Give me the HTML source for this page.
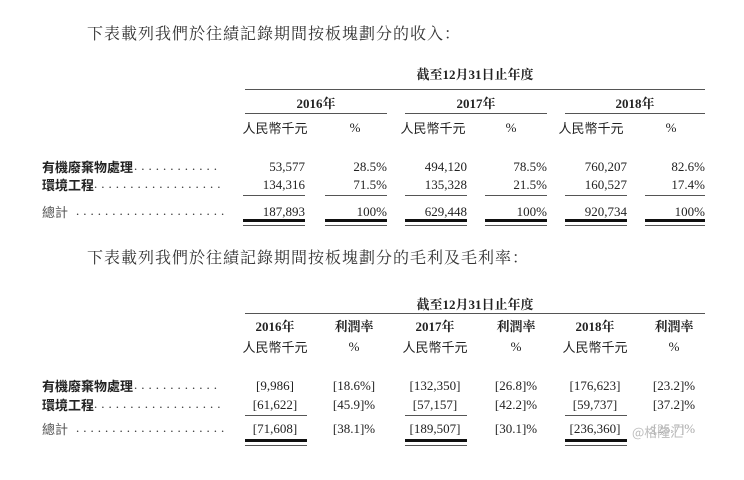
<!DOCTYPE html>
<html><head><meta charset="utf-8"><style>
body{margin:0;width:744px;height:480px;background:#fff;position:relative;overflow:hidden;font-family:"Liberation Serif","Noto Serif CJK SC",serif;color:#222}
.t{position:absolute;white-space:nowrap;font-size:13px;line-height:16px}
.r{text-align:right}
.c{text-align:center}
.b{font-weight:bold}
.ln{position:absolute;background:#555;height:1px}
.th{position:absolute;background:#111;height:3px}
.title{position:absolute;font-size:16px;letter-spacing:1px;line-height:20px;white-space:nowrap;color:#333}
.lbl{position:absolute;font-size:13px;line-height:16px;font-family:"Noto Sans CJK TC","Noto Sans CJK SC",sans-serif;font-weight:bold;color:#222;white-space:nowrap}
.dots{position:absolute;font-size:13px;line-height:16px;letter-spacing:4px;color:#333;white-space:nowrap}
.sub{font-family:"Noto Sans CJK TC","Noto Sans CJK SC",sans-serif;font-size:13px}
</style></head><body>

<div class="title" style="left:87px;top:25px">下表載列我們於往績記錄期間按板塊劃分的收入：</div>

<div class="t c b" style="left:245px;width:460px;top:67px">截至12月31日止年度</div>
<div class="ln" style="left:245px;width:460px;top:89px"></div>
<div class="t c b" style="left:245px;width:142px;top:96px">2016年</div>
<div class="t c b" style="left:405px;width:142px;top:96px">2017年</div>
<div class="t c b" style="left:565px;width:140px;top:96px">2018年</div>
<div class="ln" style="left:245px;width:142px;top:113px"></div>
<div class="ln" style="left:405px;width:142px;top:113px"></div>
<div class="ln" style="left:565px;width:140px;top:113px"></div>
<div class="t c sub" style="left:238px;width:74px;top:120px">人民幣千元</div>
<div class="t c" style="left:340px;width:30px;top:120px">%</div>
<div class="t c sub" style="left:396px;width:74px;top:120px">人民幣千元</div>
<div class="t c" style="left:496px;width:30px;top:120px">%</div>
<div class="t c sub" style="left:554px;width:74px;top:120px">人民幣千元</div>
<div class="t c" style="left:656px;width:30px;top:120px">%</div>

<div class="lbl" style="left:42px;top:159px">有機廢棄物處理</div><div class="dots" style="left:134px;top:158px">............</div>
<div class="lbl" style="left:42px;top:177px">環境工程</div><div class="dots" style="left:94px;top:176px">..................</div>
<div class="lbl" style="left:42px;top:204px;font-weight:normal;color:#555">總計</div><div class="dots" style="left:76px;top:203px">.....................</div>

<div class="t r" style="left:240px;width:65px;top:159px">53,577</div>
<div class="t r" style="left:320px;width:67px;top:159px">28.5%</div>
<div class="t r" style="left:400px;width:67px;top:159px">494,120</div>
<div class="t r" style="left:480px;width:67px;top:159px">78.5%</div>
<div class="t r" style="left:560px;width:67px;top:159px">760,207</div>
<div class="t r" style="left:640px;width:65px;top:159px">82.6%</div>

<div class="t r" style="left:240px;width:65px;top:177px">134,316</div>
<div class="t r" style="left:320px;width:67px;top:177px">71.5%</div>
<div class="t r" style="left:400px;width:67px;top:177px">135,328</div>
<div class="t r" style="left:480px;width:67px;top:177px">21.5%</div>
<div class="t r" style="left:560px;width:67px;top:177px">160,527</div>
<div class="t r" style="left:640px;width:65px;top:177px">17.4%</div>

<div class="t r" style="left:240px;width:65px;top:204px">187,893</div>
<div class="t r" style="left:320px;width:67px;top:204px">100%</div>
<div class="t r" style="left:400px;width:67px;top:204px">629,448</div>
<div class="t r" style="left:480px;width:67px;top:204px">100%</div>
<div class="t r" style="left:560px;width:67px;top:204px">920,734</div>
<div class="t r" style="left:640px;width:65px;top:204px">100%</div>

<div class="ln" style="left:243px;width:62px;top:195px"></div>
<div class="ln" style="left:325px;width:62px;top:195px"></div>
<div class="ln" style="left:405px;width:62px;top:195px"></div>
<div class="ln" style="left:485px;width:62px;top:195px"></div>
<div class="ln" style="left:565px;width:62px;top:195px"></div>
<div class="ln" style="left:645px;width:60px;top:195px"></div>
<div class="th" style="left:243px;width:62px;top:219px"></div><div class="ln" style="left:243px;width:62px;top:225px"></div>
<div class="th" style="left:325px;width:62px;top:219px"></div><div class="ln" style="left:325px;width:62px;top:225px"></div>
<div class="th" style="left:405px;width:62px;top:219px"></div><div class="ln" style="left:405px;width:62px;top:225px"></div>
<div class="th" style="left:485px;width:62px;top:219px"></div><div class="ln" style="left:485px;width:62px;top:225px"></div>
<div class="th" style="left:565px;width:62px;top:219px"></div><div class="ln" style="left:565px;width:62px;top:225px"></div>
<div class="th" style="left:645px;width:60px;top:219px"></div><div class="ln" style="left:645px;width:60px;top:225px"></div>

<div class="title" style="left:87px;top:249px">下表載列我們於往績記錄期間按板塊劃分的毛利及毛利率：</div>

<div class="t c b" style="left:245px;width:460px;top:297px">截至12月31日止年度</div>
<div class="ln" style="left:245px;width:460px;top:313px"></div>

<div class="t c b" style="left:238px;width:74px;top:319px">2016年</div>
<div class="t c b" style="left:322px;width:64px;top:319px">利潤率</div>
<div class="t c b" style="left:398px;width:74px;top:319px">2017年</div>
<div class="t c b" style="left:484px;width:64px;top:319px">利潤率</div>
<div class="t c b" style="left:558px;width:74px;top:319px">2018年</div>
<div class="t c b" style="left:642px;width:64px;top:319px">利潤率</div>
<div class="t c sub" style="left:238px;width:74px;top:339px">人民幣千元</div>
<div class="t c" style="left:322px;width:64px;top:339px">%</div>
<div class="t c sub" style="left:398px;width:74px;top:339px">人民幣千元</div>
<div class="t c" style="left:484px;width:64px;top:339px">%</div>
<div class="t c sub" style="left:558px;width:74px;top:339px">人民幣千元</div>
<div class="t c" style="left:642px;width:64px;top:339px">%</div>

<div class="lbl" style="left:42px;top:378px">有機廢棄物處理</div><div class="dots" style="left:134px;top:377px">............</div>
<div class="lbl" style="left:42px;top:397px">環境工程</div><div class="dots" style="left:94px;top:396px">..................</div>
<div class="lbl" style="left:42px;top:421px;font-weight:normal;color:#555">總計</div><div class="dots" style="left:76px;top:420px">.....................</div>

<div class="t c" style="left:238px;width:74px;top:378px">[9,986]</div>
<div class="t c" style="left:322px;width:64px;top:378px">[18.6%]</div>
<div class="t c" style="left:398px;width:74px;top:378px">[132,350]</div>
<div class="t c" style="left:484px;width:64px;top:378px">[26.8]%</div>
<div class="t c" style="left:558px;width:74px;top:378px">[176,623]</div>
<div class="t c" style="left:642px;width:64px;top:378px">[23.2]%</div>

<div class="t c" style="left:238px;width:74px;top:397px">[61,622]</div>
<div class="t c" style="left:322px;width:64px;top:397px">[45.9]%</div>
<div class="t c" style="left:398px;width:74px;top:397px">[57,157]</div>
<div class="t c" style="left:484px;width:64px;top:397px">[42.2]%</div>
<div class="t c" style="left:558px;width:74px;top:397px">[59,737]</div>
<div class="t c" style="left:642px;width:64px;top:397px">[37.2]%</div>

<div class="t c" style="left:238px;width:74px;top:421px">[71,608]</div>
<div class="t c" style="left:322px;width:64px;top:421px">[38.1]%</div>
<div class="t c" style="left:398px;width:74px;top:421px">[189,507]</div>
<div class="t c" style="left:484px;width:64px;top:421px">[30.1]%</div>
<div class="t c" style="left:558px;width:74px;top:421px">[236,360]</div>
<div class="t c" style="left:642px;width:64px;top:421px;color:#aaa">[25.7]%</div>
<div class="t" style="left:632px;top:424px;color:#bbb;font-family:'Noto Sans CJK SC',sans-serif">@格隆汇</div>

<div class="ln" style="left:245px;width:62px;top:415px"></div>
<div class="ln" style="left:405px;width:62px;top:415px"></div>
<div class="ln" style="left:565px;width:62px;top:415px"></div>
<div class="th" style="left:245px;width:62px;top:439px"></div><div class="ln" style="left:245px;width:62px;top:445px"></div>
<div class="th" style="left:405px;width:62px;top:439px"></div><div class="ln" style="left:405px;width:62px;top:445px"></div>
<div class="th" style="left:565px;width:62px;top:439px"></div><div class="ln" style="left:565px;width:62px;top:445px"></div>

</body></html>
